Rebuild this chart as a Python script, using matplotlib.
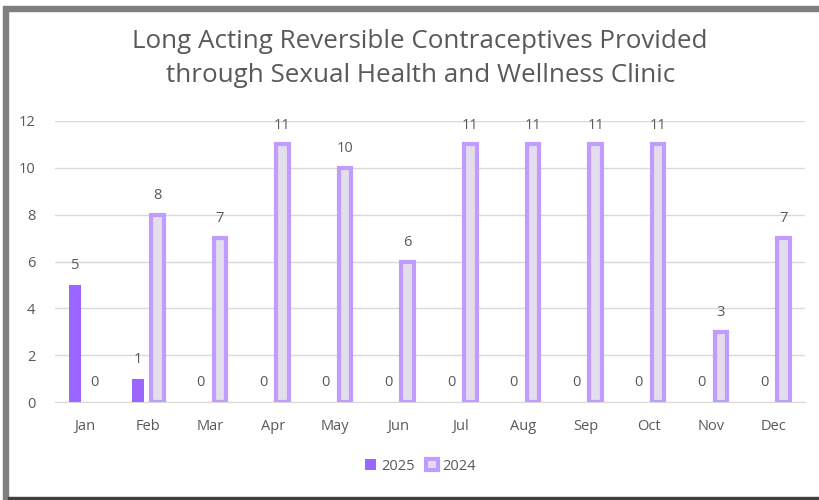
import numpy as np
import matplotlib
matplotlib.use("Agg")
from matplotlib import pyplot as plt
from matplotlib.patches import Rectangle

months = ["Jan", "Feb", "Mar", "Apr", "May", "Jun", "Jul", "Aug", "Sep", "Oct", "Nov", "Dec"]
vals_2025 = [5, 1, 0, 0, 0, 0, 0, 0, 0, 0, 0, 0]
vals_2024 = [0, 8, 7, 11, 10, 6, 11, 11, 11, 11, 3, 7]
title = "Long Acting Reversible Contraceptives Provided\nthrough Sexual Health and Wellness Clinic"

plt.rcParams['font.family'] = ['Open Sans', 'DejaVu Sans']

c25 = "#9B66FF"
c24_edge = "#C09CFF"
c24_fill = "#E3DDEC"
txt = "#595959"

fig = plt.figure(figsize=(8.19, 5), dpi=100)
ax = fig.add_axes([0.067, 0.196, 0.916, 0.562])

x = np.arange(len(months))
w = 0.2
off = 0.155
b1 = ax.bar(x - off, vals_2025, w, color=c25, label="2025", zorder=3)
# zero-height bars get no outline
lw24 = [3 if v > 0 else 0 for v in vals_2024]
b2 = ax.bar(x + off, vals_2024, w, facecolor=c24_fill, edgecolor=c24_edge,
            linewidth=lw24, label="2024", zorder=3)

for xi, v in zip(x, vals_2025):
    ax.text(xi - off, v + 0.5, str(v), ha="center", va="bottom", fontsize=10.5, color=txt)
for xi, v in zip(x, vals_2024):
    ax.text(xi + off, v + 0.5, str(v), ha="center", va="bottom", fontsize=10.5, color=txt)

ax.set_ylim(0, 12)
ax.set_xlim(-0.48, 11.5)
ax.set_yticks(range(0, 13, 2))
ax.set_xticks(x)
ax.set_xticklabels(months)
ax.yaxis.grid(True, color="#D9D9D9", linewidth=1, zorder=0)
ax.tick_params(length=0, labelsize=10.5, colors=txt)
ax.tick_params(axis="x", pad=12)
ax.tick_params(axis="y", pad=14)
for s in ax.spines.values():
    s.set_visible(False)
ax.spines["bottom"].set_visible(True)
ax.spines["bottom"].set_color("#D9D9D9")

fig.text(0.513, 0.883, title, ha="center", va="center", fontsize=18.7, color=txt, linespacing=1.45)

leg = fig.legend(handles=[b1, b2], loc="center", bbox_to_anchor=(0.513, 0.068), ncol=2,
                 frameon=False, fontsize=10.5, labelcolor=txt, handlelength=0.8, handleheight=0.8,
                 handletextpad=0.3, columnspacing=0.8)
leg.legend_handles[1].set_linewidth(3)

# outer frame
fig.add_artist(Rectangle((3 / 819, 0), 5 / 819, 489 / 500, transform=fig.transFigure,
                         color="#7F7F7F", zorder=10))
fig.add_artist(Rectangle((3 / 819, 489 / 500), 816 / 819, 5 / 500, transform=fig.transFigure,
                         color="#7F7F7F", zorder=10))
fig.add_artist(Rectangle((8 / 819, 0), 811 / 819, 3 / 500, transform=fig.transFigure,
                         color="#404040", zorder=10))

fig.savefig("out.png", dpi=100)
